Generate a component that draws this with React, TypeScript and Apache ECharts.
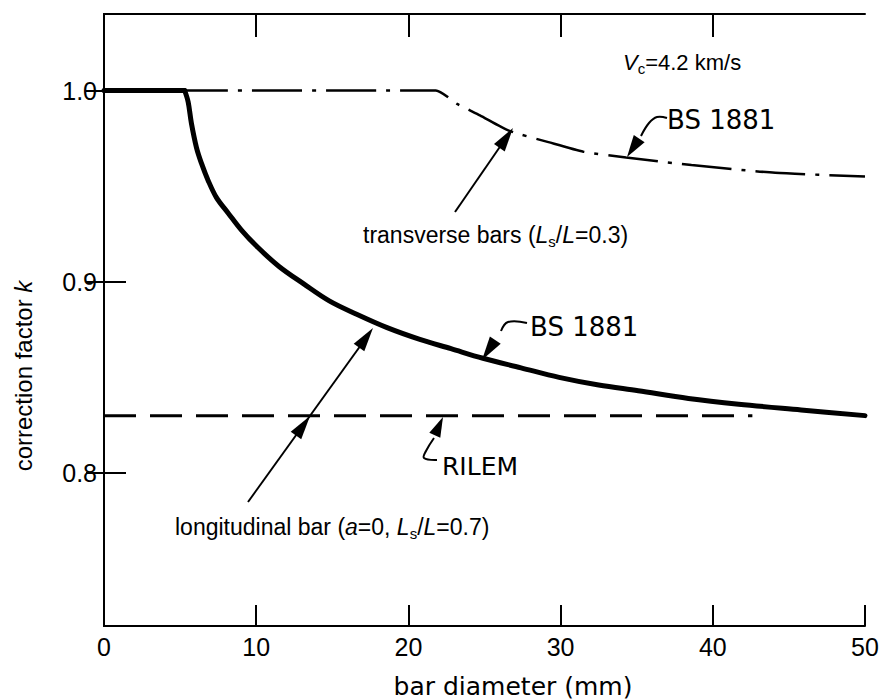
import React, { useEffect, useRef } from 'react';
import * as echarts from 'echarts';

// ---- data ----
const longitudinalFlat: number[][] = [[0, 1.0], [5.3, 1.0]];
const longitudinalBS: number[][] = [
  [5.3, 1.0], [5.53, 0.994], [5.74, 0.983], [6.08, 0.97], [6.4, 0.962],
  [6.84, 0.953], [7.39, 0.944], [8.15, 0.936], [9.03, 0.927], [10.1, 0.918],
  [11.5, 0.908], [13.1, 0.899], [14.8, 0.89], [16.6, 0.883], [18.6, 0.876],
  [20.7, 0.87], [22.8, 0.865], [24.9, 0.86], [27.4, 0.855], [29.9, 0.85],
  [32.5, 0.846], [35.1, 0.843], [38.4, 0.839], [41.7, 0.836], [45.8, 0.833], [50, 0.83],
];
const transverseBS: number[][] = [
  [0, 1.0], [21.8, 1.0], [23.2, 0.993], [24.7, 0.987], [26.6, 0.979], [29.2, 0.973],
  [31.5, 0.968], [34.3, 0.965], [38.6, 0.961], [44.1, 0.957], [50, 0.955],
];
const rilem: number[][] = [[0, 0.83], [42.6, 0.83]];
const yTickValues = [0.8, 0.9, 1.0];
const xTickValues = [10, 20, 30, 40];

const FONT = "'Liberation Sans', Arial, Helvetica, sans-serif";
const WIDE = "'DejaVu Sans', Verdana, sans-serif";

type P = [number, number];
function head(tip: P, from: P, len = 22, w = 12) {
  const dx = tip[0] - from[0];
  const dy = tip[1] - from[1];
  const d = Math.hypot(dx, dy);
  const ux = dx / d, uy = dy / d;
  const bx = tip[0] - ux * len, by = tip[1] - uy * len;
  const nx = -uy * w / 2, ny = ux * w / 2;
  return {
    type: 'polygon',
    shape: { points: [tip, [bx + nx, by + ny], [bx - nx, by - ny]] },
    style: { fill: '#000' },
  };
}
function seg(a: P, b: P, lw = 2) {
  return { type: 'line', shape: { x1: a[0], y1: a[1], x2: b[0], y2: b[1] }, style: { stroke: '#000', lineWidth: lw } };
}
function leader(points: P[]) {
  return { type: 'polyline', shape: { points, smooth: 0.4 }, style: { stroke: '#000', lineWidth: 2, fill: 'none' } };
}

const richBase = {
  n: { fontFamily: FONT, fontSize: 23, lineHeight: 28, color: '#000' },
  it: { fontFamily: FONT, fontSize: 23, lineHeight: 28, fontStyle: 'italic', color: '#000' },
  sub: { fontFamily: FONT, fontSize: 15, verticalAlign: 'bottom', color: '#000' },
};

export default function App() {
  const ref = useRef<HTMLDivElement>(null);
  useEffect(() => {
    if (!ref.current) return;
    const chart = echarts.init(ref.current, undefined, { renderer: 'svg' });
    const axisLine = { show: true, lineStyle: { color: '#000', width: 2 } };
    const graphics: any[] = [
      {
        type: 'text', x: 623, y: 62,
        style: {
          text: '{it|V}{sub|c}{n|=4.2 km/s}', verticalAlign: 'middle',
          rich: { ...richBase, n: { ...richBase.n, fontSize: 22 }, it: { ...richBase.it, fontSize: 22 } },
        },
      },
      { type: 'text', x: 667, y: 120, style: { text: 'BS 1881', fontFamily: WIDE, fontSize: 26, fill: '#000', verticalAlign: 'middle' } },
      leader([[667, 118], [657, 117], [649, 123], [641, 136]]),
      head([627, 157], [641, 136], 22, 13),
      { type: 'text', x: 530, y: 327, style: { text: 'BS 1881', fontFamily: WIDE, fontSize: 26, fill: '#000', verticalAlign: 'middle' } },
      leader([[527, 323], [508, 322], [501, 331]]),
      head([482, 360], [500, 333], 24, 13),
      { type: 'text', x: 442, y: 466, style: { text: 'RILEM', fontFamily: WIDE, fontSize: 25, fill: '#000', verticalAlign: 'middle' } },
      leader([[437, 460], [424, 458], [426, 451], [434, 438]]),
      head([443, 417], [434, 437], 20, 12),
      {
        type: 'text', x: 363, y: 235,
        style: { text: '{n|transverse bars (}{it|L}{sub|s}{n|/}{it|L}{n|=0.3)}', verticalAlign: 'middle', rich: richBase },
      },
      seg([455, 212], [506, 138]),
      head([513, 128], [455, 212], 24, 13),
      {
        type: 'text', x: 175, y: 527,
        style: { text: '{n|longitudinal bar (}{it|a}{n|=0, }{it|L}{sub|s}{n|/}{it|L}{n|=0.7)}', verticalAlign: 'middle', rich: richBase },
      },
      seg([248, 502], [366, 338]),
      head([373, 328], [248, 502], 24, 13),
      head([310, 416], [248, 502], 24, 13),
      {
        type: 'text', x: 513, y: 686,
        style: { text: 'bar diameter (mm)', fontFamily: WIDE, fontSize: 25, fill: '#000', align: 'center', verticalAlign: 'middle' },
      },
      {
        type: 'text', x: 23, y: 376, rotation: Math.PI / 2,
        style: {
          text: '{n|correction factor }{it|k}', align: 'center', verticalAlign: 'middle',
          rich: { n: { ...richBase.n, fontSize: 24 }, it: { ...richBase.it, fontSize: 24 } },
        },
      },
    ];

    const solid = { color: '#000', width: 5, cap: 'round', join: 'round' };
    chart.setOption({
      animation: false,
      backgroundColor: '#fff',
      grid: { left: 104, right: 14, top: 14, bottom: 74, containLabel: false, outerBoundsMode: 'none' },
      xAxis: [
        {
          type: 'value', min: 0, max: 50, interval: 10, position: 'bottom',
          axisLine,
          axisTick: { show: true, inside: true, length: 21, lineStyle: { color: '#000', width: 2 } },
          axisLabel: { color: '#000', fontFamily: FONT, fontSize: 25, margin: 8 },
          splitLine: { show: false },
        },
        {
          type: 'value', min: 0, max: 50, position: 'top',
          axisLine,
          axisTick: { show: true, inside: true, length: 23, customValues: xTickValues, lineStyle: { color: '#000', width: 2 } },
          axisLabel: { show: false },
          splitLine: { show: false },
        },
      ],
      yAxis: [
        {
          type: 'value', min: 0.72, max: 1.04, position: 'left',
          axisLine,
          axisTick: { show: true, inside: true, length: 22, customValues: yTickValues, lineStyle: { color: '#000', width: 2 } },
          axisLabel: {
            color: '#000', fontFamily: FONT, fontSize: 25, margin: 7,
            customValues: yTickValues, formatter: (v: number) => v.toFixed(1),
          },
          splitLine: { show: false },
        },
        {
          type: 'value', min: 0.72, max: 1.04, position: 'right',
          axisLine,
          axisTick: { show: true, inside: true, length: 18, customValues: yTickValues, lineStyle: { color: '#000', width: 2 } },
          axisLabel: { show: false },
          splitLine: { show: false },
        },
      ],
      series: [
        {
          type: 'line', name: 'longitudinal flat', data: longitudinalFlat, xAxisIndex: 0, yAxisIndex: 0,
          showSymbol: false, symbol: 'none', lineStyle: solid,
        },
        {
          type: 'line', name: 'longitudinal BS 1881', data: longitudinalBS, xAxisIndex: 0, yAxisIndex: 0,
          showSymbol: false, symbol: 'none', smooth: 0.35,
          lineStyle: solid,
        },
        {
          type: 'line', name: 'transverse BS 1881', data: transverseBS, xAxisIndex: 0, yAxisIndex: 0,
          showSymbol: false, symbol: 'none', smooth: 0.2,
          lineStyle: { color: '#000', width: 2.5, type: [50, 10, 4, 10] },
        },
        {
          type: 'line', name: 'RILEM', data: rilem, xAxisIndex: 0, yAxisIndex: 0,
          showSymbol: false, symbol: 'none',
          lineStyle: { color: '#000', width: 3, type: [32, 14] },
        },
      ],
      graphic: graphics,
    });
    return () => chart.dispose();
  }, []);
  return <div ref={ref} style={{ position: 'fixed', left: 0, top: 0, width: 879, height: 700, background: '#fff' }} />;
}
